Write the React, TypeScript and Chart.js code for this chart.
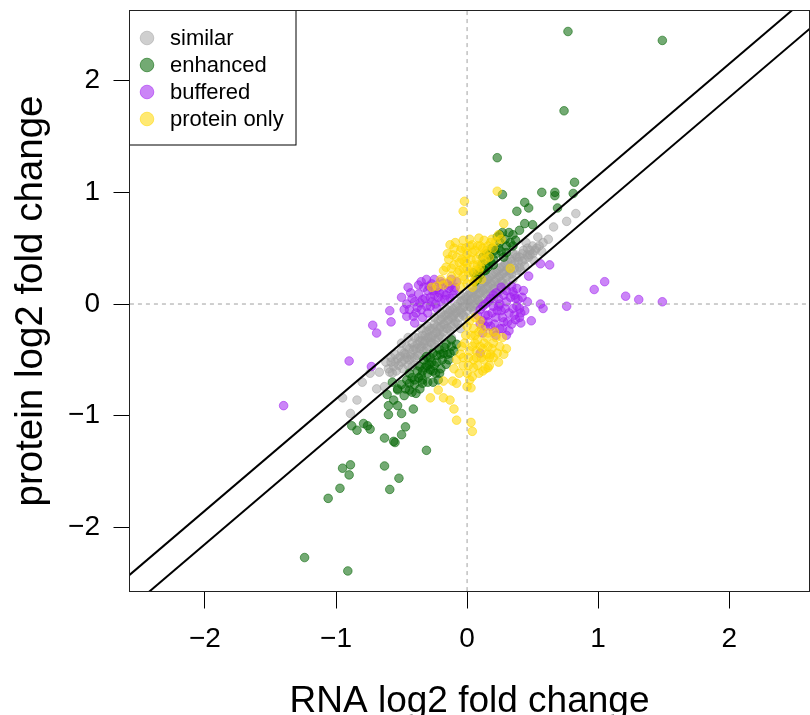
import { useEffect, useRef } from "react";
import { Chart, registerables } from "chart.js";
Chart.register(...registerables);

type P = [number, number];

const seriesNames = ["similar", "enhanced", "buffered", "protein only"];

const similarPts: P[] = [
  [-0.95, -0.84], [-0.84, -0.86], [-0.89, -0.98], [-0.69, -0.76], [-0.63, -0.74], [-0.67, -0.61], [-0.59, -0.61],
  [-0.74, -0.62], [-0.80, -0.70], [-0.55, -0.52],
  [-0.55, -0.45], [-0.52, -0.55], [-0.50, -0.42], [-0.48, -0.50], [-0.46, -0.38], [-0.45, -0.55], [-0.43, -0.45],
  [-0.42, -0.35], [-0.40, -0.48], [-0.39, -0.40], [-0.37, -0.30], [-0.36, -0.45], [-0.35, -0.38], [-0.34, -0.28],
  [-0.33, -0.42], [-0.32, -0.33], [-0.31, -0.25], [-0.30, -0.38], [-0.29, -0.30], [-0.28, -0.22], [-0.27, -0.35],
  [-0.26, -0.28], [-0.25, -0.18], [-0.24, -0.32], [-0.23, -0.25], [-0.22, -0.15], [-0.21, -0.28], [-0.20, -0.20],
  [-0.19, -0.12], [-0.18, -0.25], [-0.17, -0.18], [-0.16, -0.10], [-0.15, -0.22], [-0.14, -0.14], [-0.13, -0.06],
  [-0.12, -0.20], [-0.11, -0.12], [-0.10, -0.04], [-0.09, -0.16], [-0.08, -0.08], [-0.07, 0.00], [-0.06, -0.12],
  [-0.05, -0.05], [-0.04, 0.03], [-0.03, -0.10], [-0.02, -0.02], [-0.01, 0.06], [0.00, -0.06], [0.01, 0.02],
  [0.02, 0.10], [0.03, -0.03], [0.04, 0.05], [0.05, 0.12], [0.06, 0.00], [0.07, 0.08], [0.08, 0.15], [0.09, 0.03],
  [0.10, 0.10], [0.11, 0.18], [0.12, 0.05], [0.13, 0.13], [0.14, 0.20], [0.15, 0.08], [0.16, 0.16], [0.17, 0.24],
  [0.18, 0.10], [0.19, 0.18], [0.20, 0.27], [0.21, 0.14], [0.22, 0.22], [0.23, 0.30], [0.24, 0.17], [0.25, 0.25],
  [0.26, 0.33], [0.27, 0.20], [0.28, 0.28], [0.29, 0.36], [0.30, 0.24], [0.32, 0.32], [0.33, 0.40], [0.34, 0.27],
  [0.36, 0.36], [0.38, 0.42], [0.40, 0.33], [0.42, 0.45], [0.44, 0.40], [0.46, 0.50], [0.48, 0.44],
  [0.51, 0.39], [0.54, 0.60], [0.57, 0.47], [0.66, 0.69], [0.76, 0.74], [0.83, 0.81], [0.50, 0.52], [0.45, 0.55],
  [-0.20, -0.08], [-0.15, -0.05], [-0.10, -0.18], [-0.05, 0.08], [0.00, 0.04], [0.05, -0.02], [0.10, 0.00],
  [0.15, 0.22], [0.20, 0.05], [-0.25, -0.12], [-0.30, -0.20], [-0.35, -0.22], [0.25, 0.12], [0.30, 0.18],
  [0.35, 0.45], [-0.40, -0.30], [-0.45, -0.30], [-0.50, -0.35], [-0.58, -0.48], [-0.62, -0.52], [-0.42, -0.56],
  [-0.38, -0.55],
  [-0.60, -0.58], [-0.57, -0.62], [-0.54, -0.60], [-0.51, -0.47], [-0.49, -0.58], [-0.47, -0.45], [-0.44, -0.50],
  [-0.41, -0.41], [-0.38, -0.46], [-0.36, -0.33], [-0.33, -0.36], [-0.31, -0.40], [-0.29, -0.24], [-0.27, -0.30],
  [-0.25, -0.36], [-0.23, -0.20], [-0.21, -0.22], [-0.19, -0.30], [-0.17, -0.10], [-0.15, -0.15], [-0.13, -0.24],
  [-0.11, -0.05], [-0.09, -0.08], [-0.07, -0.18], [-0.05, 0.02], [-0.03, -0.03], [-0.01, -0.12], [0.01, 0.08],
  [0.03, 0.04], [0.05, -0.06], [0.07, 0.14], [0.09, 0.09], [0.11, 0.00], [0.13, 0.20], [0.15, 0.14], [0.17, 0.04],
  [0.19, 0.26], [0.21, 0.20], [0.23, 0.10], [0.25, 0.32], [0.27, 0.27], [0.29, 0.16], [0.31, 0.38], [0.33, 0.30],
  [0.35, 0.22], [0.37, 0.44], [0.39, 0.38], [0.41, 0.30], [0.43, 0.48], [0.47, 0.42], [0.52, 0.48], [0.58, 0.55],
  [0.62, 0.58], [-0.22, -0.40], [-0.12, -0.30], [-0.05, -0.22], [-0.30, -0.48],
  [-0.58, -0.52], [-0.56, -0.56], [-0.53, -0.49], [-0.50, -0.52], [-0.48, -0.44], [-0.46, -0.48], [-0.44, -0.40],
  [-0.42, -0.48], [-0.40, -0.38], [-0.38, -0.36], [-0.36, -0.40], [-0.34, -0.33], [-0.32, -0.28], [-0.30, -0.30],
  [-0.28, -0.34], [-0.26, -0.22], [-0.24, -0.26], [-0.22, -0.30], [-0.20, -0.14], [-0.18, -0.18], [-0.16, -0.22],
  [-0.14, -0.08], [-0.12, -0.12], [-0.10, -0.10], [-0.08, -0.02], [-0.06, -0.06], [-0.04, -0.08], [-0.02, 0.04],
  [0.00, 0.00], [0.02, -0.02], [0.04, 0.10], [0.06, 0.06], [0.08, 0.04], [0.10, 0.15], [0.12, 0.12], [0.14, 0.09],
  [0.16, 0.22], [0.18, 0.18], [0.20, 0.14], [0.22, 0.28], [0.24, 0.24], [0.26, 0.20], [0.28, 0.34], [0.30, 0.30],
  [0.32, 0.26], [0.34, 0.38], [0.36, 0.32], [0.38, 0.30], [0.40, 0.42], [0.42, 0.38], [0.44, 0.34], [0.46, 0.44],
  [0.48, 0.48], [0.50, 0.45], [0.53, 0.50], [0.55, 0.52],
];

const enhancedPts: P[] = [
  [0.77, 2.44], [1.49, 2.36], [0.74, 1.73], [0.23, 1.31], [0.82, 1.09], [0.81, 0.99], [0.57, 1.00], [0.67, 1.00],
  [0.67, 0.97], [0.69, 0.86], [0.44, 0.91], [0.47, 0.86], [0.38, 0.83], [0.27, 0.98], [0.44, 0.72], [0.50, 0.71],
  [0.40, 0.66], [0.37, 0.57], [0.27, 0.64], [0.23, 0.60], [0.25, 0.62],
  [0.22, 0.45], [0.24, 0.50], [0.20, 0.40], [0.18, 0.38], [0.16, 0.33], [0.13, 0.30], [0.10, 0.26], [0.12, 0.42],
  [0.15, 0.45], [0.08, 0.22], [0.26, 0.47], [0.30, 0.52], [0.33, 0.55], [0.28, 0.42], [0.19, 0.50], [0.06, 0.20],
  [0.11, 0.35], [0.05, 0.28],
  [0.09, 0.28], [0.14, 0.36], [0.17, 0.44], [0.21, 0.48], [0.25, 0.55], [0.29, 0.58], [0.32, 0.64], [0.35, 0.62],
  [0.14, 0.30], [0.20, 0.35], [0.30, 0.46], [0.35, 0.52], [0.07, 0.25], [0.11, 0.30],
  [-1.24, -2.27], [-0.91, -2.39], [-1.06, -1.74], [-0.97, -1.65], [-0.95, -1.47], [-0.89, -1.44], [-0.90, -1.53],
  [-0.63, -1.45], [-0.59, -1.66], [-0.52, -1.56], [-0.31, -1.31], [-0.63, -1.20], [-0.55, -1.24], [-0.56, -1.23],
  [-0.50, -1.17], [-0.47, -1.10], [-0.88, -1.09], [-0.84, -1.13], [-0.79, -1.07], [-0.76, -1.09], [-0.74, -1.12],
  [-0.60, -0.99], [-0.60, -0.91], [-0.53, -0.91], [-0.50, -0.98], [-0.41, -0.94], [-0.61, -0.81], [-0.53, -0.76],
  [-0.47, -0.76], [-0.42, -0.79], [-0.39, -0.80], [-0.34, -0.71], [-0.26, -0.70], [-0.44, -0.71],
  [-0.27, -0.52], [-0.31, -0.47], [-0.23, -0.46], [-0.36, -0.56], [-0.28, -0.59], [-0.44, -0.62], [-0.40, -0.68],
  [-0.46, -0.68], [-0.44, -0.77], [-0.53, -0.77], [-0.21, -0.41], [-0.17, -0.39], [-0.34, -0.68], [-0.22, -0.68],
  [-0.25, -0.55], [-0.30, -0.62], [-0.33, -0.50], [-0.19, -0.50], [-0.15, -0.45], [-0.26, -0.44], [-0.38, -0.60],
  [-0.35, -0.64], [-0.20, -0.58], [-0.12, -0.38], [-0.29, -0.54], [-0.24, -0.62], [-0.32, -0.57], [-0.18, -0.44],
  [-0.14, -0.50], [-0.50, -0.72], [-0.48, -0.82], [-0.56, -0.86], [-0.57, -0.70],
  [-0.12, -0.32], [-0.10, -0.42], [-0.16, -0.36], [-0.20, -0.45], [-0.23, -0.52], [-0.26, -0.60], [-0.28, -0.48],
  [-0.31, -0.55], [-0.34, -0.60], [-0.37, -0.66], [-0.40, -0.72], [-0.42, -0.66], [-0.16, -0.54], [-0.21, -0.62],
  [-0.13, -0.44], [-0.08, -0.36], [-0.30, -0.70], [-0.36, -0.76],
];

const bufferedPts: P[] = [
  [-1.40, -0.91], [-0.90, -0.51], [-0.73, -0.56], [-0.72, -0.19], [-0.69, -0.26], [-0.59, -0.06], [-0.58, -0.16],
  [0.56, 0.36], [0.63, 0.35], [0.47, 0.25], [0.97, 0.13], [1.05, 0.20], [1.21, 0.07], [1.31, 0.04], [1.49, 0.02],
  [0.76, -0.02], [0.56, 0.00], [0.58, -0.04], [0.49, -0.15], [0.41, -0.17], [0.40, -0.04], [0.37, 0.05],
  [0.35, 0.11], [0.10, -0.44], [0.12, -0.26],
  [-0.46, 0.00], [-0.46, -0.11], [-0.37, 0.09], [-0.36, 0.01], [-0.41, -0.11], [-0.40, -0.17], [-0.35, -0.05],
  [-0.32, 0.05], [-0.30, 0.12], [-0.28, -0.02], [-0.25, 0.08], [-0.22, 0.15], [-0.20, 0.02], [-0.18, 0.10],
  [-0.15, 0.18], [-0.13, 0.05], [-0.10, 0.12], [-0.08, 0.20], [-0.33, 0.15], [-0.27, 0.18], [-0.24, 0.00],
  [-0.30, -0.08], [-0.38, -0.03], [-0.42, 0.05], [-0.16, 0.08], [-0.12, 0.22], [-0.20, 0.20], [-0.26, 0.12],
  [-0.34, -0.12], [-0.22, 0.06], [-0.28, 0.06], [-0.14, 0.14], [-0.43, 0.10], [-0.37, 0.17],
  [-0.44, -0.05], [-0.40, 0.02], [-0.39, -0.08], [-0.34, 0.04], [-0.31, -0.02], [-0.29, 0.16], [-0.27, 0.02],
  [-0.24, 0.13], [-0.23, -0.04], [-0.21, 0.10], [-0.19, 0.18], [-0.17, 0.04], [-0.13, 0.16], [-0.11, 0.08],
  [-0.09, 0.15], [-0.35, 0.20], [-0.31, 0.22], [-0.25, 0.22], [-0.48, -0.05], [-0.50, 0.06], [-0.45, 0.15],
  [0.08, -0.10], [0.10, -0.05], [0.12, -0.15], [0.14, 0.00], [0.16, -0.10], [0.18, -0.20], [0.20, -0.02],
  [0.22, -0.12], [0.24, 0.05], [0.26, -0.06], [0.28, -0.16], [0.30, 0.02], [0.32, -0.08], [0.34, -0.18],
  [0.36, 0.08], [0.38, -0.02], [0.40, -0.12], [0.42, 0.06], [0.18, 0.05], [0.22, 0.10], [0.26, 0.15],
  [0.30, 0.12], [0.34, 0.16], [0.14, -0.20], [0.20, -0.25], [0.25, -0.22], [0.32, -0.24], [0.28, 0.08],
  [0.16, 0.02], [0.24, -0.02], [0.36, -0.10], [0.44, -0.06], [0.12, -0.02], [0.20, 0.08],
  [0.10, -0.18], [0.14, -0.10], [0.16, -0.16], [0.19, -0.08], [0.21, -0.18], [0.23, -0.06], [0.25, 0.00],
  [0.27, -0.12], [0.29, -0.04], [0.31, -0.16], [0.33, 0.06], [0.35, -0.04], [0.37, -0.14], [0.39, 0.04],
  [0.41, -0.08], [0.43, 0.12], [0.27, -0.22], [0.22, -0.28], [0.30, -0.28], [0.38, 0.14], [0.46, 0.02],
];

const proteinOnlyPts: P[] = [
  [0.23, 1.01], [-0.02, 0.92], [-0.03, 0.83], [0.28, 0.72], [0.26, 0.58], [-0.13, 0.53], [-0.03, 0.57],
  [0.04, 0.53], [0.09, 0.59], [0.13, 0.57], [-0.16, 0.33], [-0.27, 0.15], [-0.23, 0.16], [-0.18, 0.17],
  [0.33, 0.32],
  [-0.08, 0.42], [-0.05, 0.48], [-0.02, 0.38], [0.00, 0.45], [0.03, 0.40], [0.06, 0.48], [0.08, 0.35],
  [0.10, 0.44], [-0.06, 0.30], [-0.03, 0.25], [0.00, 0.32], [0.03, 0.28], [0.06, 0.22], [0.09, 0.30],
  [0.12, 0.38], [-0.10, 0.35], [-0.12, 0.25], [-0.08, 0.20], [-0.05, 0.15], [0.00, 0.18], [0.02, 0.52],
  [-0.10, 0.50], [0.15, 0.48], [0.18, 0.55], [0.05, 0.35], [-0.02, 0.22], [0.14, 0.40], [-0.14, 0.40],
  [0.10, 0.52], [-0.04, 0.40],
  [-0.18, 0.30], [-0.15, 0.45], [-0.12, 0.32], [-0.09, 0.55], [-0.07, 0.28], [-0.04, 0.50], [-0.01, 0.42],
  [0.01, 0.28], [0.02, 0.58], [0.04, 0.46], [0.05, 0.20], [0.07, 0.40], [0.08, 0.52], [0.10, 0.33],
  [0.11, 0.22], [0.13, 0.45], [0.16, 0.52], [0.17, 0.42], [0.20, 0.50], [0.22, 0.56], [0.24, 0.62],
  [0.19, 0.58], [-0.06, 0.37], [0.00, 0.36], [0.06, 0.30], [-0.11, 0.44], [-0.20, 0.22], [-0.14, 0.20],
  [-0.01, 0.50], [0.04, 0.15], [0.12, 0.50], [-0.03, 0.32],
  [0.00, -0.20], [0.03, -0.28], [0.06, -0.35], [0.09, -0.25], [0.12, -0.40], [0.15, -0.30], [0.18, -0.45],
  [0.02, -0.42], [0.05, -0.50], [0.08, -0.55], [0.11, -0.48], [0.14, -0.58], [-0.02, -0.35], [-0.05, -0.45],
  [-0.03, -0.55], [0.00, -0.62], [0.04, -0.65], [0.16, -0.38], [0.20, -0.35], [0.10, -0.15], [0.06, -0.12],
  [-0.08, -0.50], [-0.10, -0.58], [0.12, -0.60], [0.07, -0.42], [0.01, -0.48],
  [0.02, -0.15], [0.05, -0.22], [0.08, -0.32], [0.11, -0.22], [0.13, -0.35], [0.16, -0.26], [0.19, -0.40],
  [0.22, -0.30], [0.25, -0.38], [0.28, -0.45], [0.04, -0.38], [0.07, -0.48], [0.10, -0.38], [0.13, -0.50],
  [0.17, -0.55], [0.20, -0.48], [-0.01, -0.28], [-0.04, -0.38], [0.01, -0.55], [0.09, -0.62], [0.15, -0.45],
  [0.06, -0.28], [-0.03, -0.48], [0.24, -0.52], [0.30, -0.40], [0.02, -0.68],
  [0.23, -0.44], [0.17, -0.48], [0.16, -0.57], [0.05, -0.57], [-0.11, -0.69], [-0.18, -0.69], [-0.08, -0.71],
  [0.00, -0.74], [-0.18, -0.84], [-0.13, -0.86], [-0.28, -0.84], [-0.10, -0.94], [-0.08, -1.04], [0.03, -1.06],
  [0.04, -1.14], [-0.22, -0.77], [0.21, -0.25], [0.27, -0.30], [-0.06, -0.62], [0.03, -0.75],
];

const xTicks = [-2, -1, 0, 1, 2];
const yTicks = [-2, -1, 0, 1, 2];

const upperLine: P[] = [[-3, -2.85], [3, 3.15]];
const lowerLine: P[] = [[-3, -3.15], [3, 2.85]];
const vZero: P[] = [[0, -3], [0, 3]];
const hZero: P[] = [[-3, 0], [3, 0]];

const seriesColors = [
  "rgba(160,160,160,0.5)",
  "rgba(0,100,0,0.55)",
  "rgba(160,32,240,0.55)",
  "rgba(255,215,0,0.55)",
];

const FONT = "'Liberation Sans', Arial, Helvetica, sans-serif";
const fmt = (v: number) => (v < 0 ? "\u2212" + Math.abs(v) : String(v));
const toXY = (pts: P[]) => pts.map(([x, y]) => ({ x, y }));

export default function App() {
  const ref = useRef<HTMLCanvasElement | null>(null);

  useEffect(() => {
    if (!ref.current) return;
    const allSeries = [similarPts, enhancedPts, bufferedPts, proteinOnlyPts];

    const boxLegend = {
      id: "boxLegend",
      afterDraw(chart: any) {
        const { ctx, chartArea } = chart;
        const { left, top, right, bottom } = chartArea;
        ctx.save();
        ctx.fillStyle = "#fff";
        ctx.fillRect(left, top, 166.5, 134.5);
        ctx.strokeStyle = "#000";
        ctx.lineWidth = 1;
        ctx.strokeRect(left, top, 166.5, 134.5);
        ctx.font = `22px ${FONT}`;
        ctx.textBaseline = "middle";
        ctx.textAlign = "left";
        seriesNames.forEach((name, i) => {
          const cy = top + 27.5 + i * 27;
          ctx.beginPath();
          ctx.arc(left + 17.5, cy, 6.8, 0, Math.PI * 2);
          ctx.fillStyle = seriesColors[i];
          ctx.fill();
          ctx.strokeStyle = seriesColors[i];
          ctx.lineWidth = 1;
          ctx.stroke();
          ctx.fillStyle = "#000";
          ctx.fillText(name, left + 40.5, cy + 1);
        });
        ctx.strokeStyle = "#222";
        ctx.lineWidth = 1;
        ctx.strokeRect(left, top, right - left, bottom - top);
        ctx.restore();
      },
    };

    const pointDs = allSeries.map((pts, i) => ({
      label: seriesNames[i],
      data: toXY(pts),
      backgroundColor: seriesColors[i],
      borderColor: seriesColors[i],
      borderWidth: 1,
      pointRadius: 4.3,
      order: 5 - i,
    }));

    const lineDs = (pts: P[], color: string, width: number, dash: number[], order: number) => ({
      label: "",
      data: toXY(pts),
      showLine: true,
      borderColor: color,
      borderWidth: width,
      borderDash: dash,
      pointRadius: 0,
      fill: false,
      order,
    });

    const chart = new Chart(ref.current, {
      type: "scatter",
      data: {
        datasets: [
          lineDs(upperLine, "#000", 2, [], 0),
          lineDs(lowerLine, "#000", 2, [], 0),
          lineDs(vZero, "rgba(150,150,150,0.9)", 1, [4, 4], 1),
          lineDs(hZero, "rgba(150,150,150,0.9)", 1, [4, 4], 1),
          ...pointDs,
        ] as any,
      },
      options: {
        animation: false,
        responsive: true,
        maintainAspectRatio: false,
        layout: { autoPadding: false, padding: { top: 10.5, right: 0.5, left: 0, bottom: 0 } },
        plugins: { legend: { display: false }, tooltip: { enabled: false } },
        scales: {
          x: {
            type: "linear",
            min: -2.576,
            max: 2.613,
            afterBuildTicks: (s: any) => {
              s.ticks = xTicks.map((v) => ({ value: v }));
            },
            afterFit: (s: any) => {
              s.height = 123.5;
              s.paddingLeft = 0;
              s.paddingRight = 0;
              s.paddingTop = 0;
              s.paddingBottom = 0;
            },
            ticks: {
              callback: (v: any) => fmt(Number(v)),
              font: { size: 28, family: FONT },
              color: "#000",
              padding: 14,
              maxRotation: 0,
              autoSkip: false,
            },
            grid: { drawOnChartArea: false, drawTicks: true, tickLength: 17, color: "#000", tickColor: "#000" },
            border: { display: false },
            title: {
              display: true,
              text: "RNA log2 fold change",
              font: { size: 37, family: FONT },
              color: "#000",
              padding: { top: 0, bottom: -8.7 },
            },
          },
          y: {
            type: "linear",
            min: -2.574,
            max: 2.628,
            afterBuildTicks: (s: any) => {
              s.ticks = yTicks.map((v) => ({ value: v }));
            },
            afterFit: (s: any) => {
              s.width = 129.5;
              s.paddingTop = 0;
              s.paddingBottom = 0;
              s.paddingLeft = 0;
              s.paddingRight = 0;
            },
            ticks: {
              callback: (v: any) => fmt(Number(v)),
              font: { size: 28, family: FONT },
              color: "#000",
              padding: 13.5,
              autoSkip: false,
            },
            grid: { drawOnChartArea: false, drawTicks: true, tickLength: 16, color: "#000", tickColor: "#000" },
            border: { display: false },
            title: {
              display: true,
              text: "protein log2 fold change",
              font: { size: 38.5, family: FONT },
              color: "#000",
              padding: { top: 8, bottom: 0 },
            },
          },
        },
      } as any,
      plugins: [boxLegend],
    });
    return () => chart.destroy();
  }, []);

  return (
    <div style={{ position: "fixed", left: 0, top: 0, width: 810, height: 715, background: "#fff" }}>
      <canvas ref={ref} />
    </div>
  );
}
